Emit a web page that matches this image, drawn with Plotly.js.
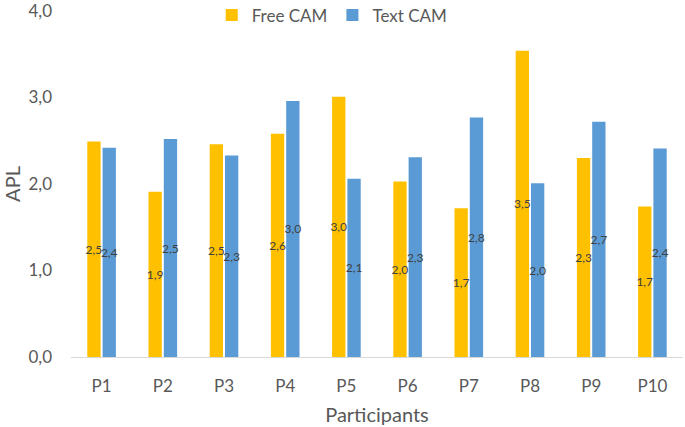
<!DOCTYPE html>
<html lang="en">
<head>
  <meta charset="UTF-8" />
  <title>APL per participant</title>
  <script src="https://cdn.jsdelivr.net/npm/plotly.js-dist@3.0.1/plotly.min.js"></script>
  <style>
    body { margin: 0; background: #fff; }
    #chart { width: 685px; height: 427px; }
  </style>
</head>
<body>
  <div id="chart"></div>
<script>
  // values
  const participants = ["P1", "P2", "P3", "P4", "P5", "P6", "P7", "P8", "P9", "P10"];
  const freeCam = [2.49, 1.91, 2.46, 2.58, 3.01, 2.03, 1.72, 3.54, 2.30, 1.74];
  const textCam = [2.42, 2.52, 2.33, 2.96, 2.06, 2.31, 2.77, 2.01, 2.72, 2.41];
  const yTicks = [0, 1, 2, 3, 4];

  const font = "Lato, 'Open Sans', sans-serif";

  function barTrace(name, values, color) {
    return {
      type: "bar",
      name: name,
      x: participants,
      y: values,
      marker: { color: color, line: { width: 0 } },
      texttemplate: "%{y:.1f}",
      textposition: "inside",
      insidetextanchor: "middle",
      textangle: 0,
      constraintext: "none",
      textfont: { family: font, size: 12, color: "#404040" },
      cliponaxis: false,
      hoverinfo: "x+y"
    };
  }

  const data = [
    barTrace("Free CAM", freeCam, "#FFC000"),
    barTrace("Text CAM", textCam, "#5B9BD5")
  ];

  const layout = {
    width: 685,
    height: 427,
    margin: { l: 71, r: 2, t: 11, b: 70, autoexpand: false },
    paper_bgcolor: "#fff",
    plot_bgcolor: "#fff",
    separators: ",.",
    font: { family: font, size: 17, color: "#595959" },
    barmode: "group",
    bargap: 0.5,
    bargroupgap: 0.13,
    showlegend: true,
    legend: {
      orientation: "h",
      xref: "container", yref: "container",
      x: 0.485, xanchor: "center",
      y: 0.964, yanchor: "middle",
      font: { size: 17, color: "#595959" },
      itemwidth: 30,
      bgcolor: "rgba(0,0,0,0)"
    },
    xaxis: {
      title: { text: "Participants", font: { size: 20, color: "#595959" }, standoff: 12 },
      showline: true,
      linecolor: "#D9D9D9",
      linewidth: 1,
      ticks: "",
      ticklabelstandoff: 14,
      showgrid: false,
      automargin: false
    },
    yaxis: {
      title: { text: "APL", font: { size: 20, color: "#595959" }, standoff: 10 },
      range: [0, 4],
      tickvals: yTicks,
      tickformat: ".1f",
      ticks: "",
      ticklabelstandoff: 18,
      ticklabeloverflow: "allow",
      showgrid: false,
      zeroline: false,
      showline: false,
      automargin: false
    }
  };

  Plotly.newPlot("chart", data, layout, { displayModeBar: false, responsive: false });
</script>
</body>
</html>
